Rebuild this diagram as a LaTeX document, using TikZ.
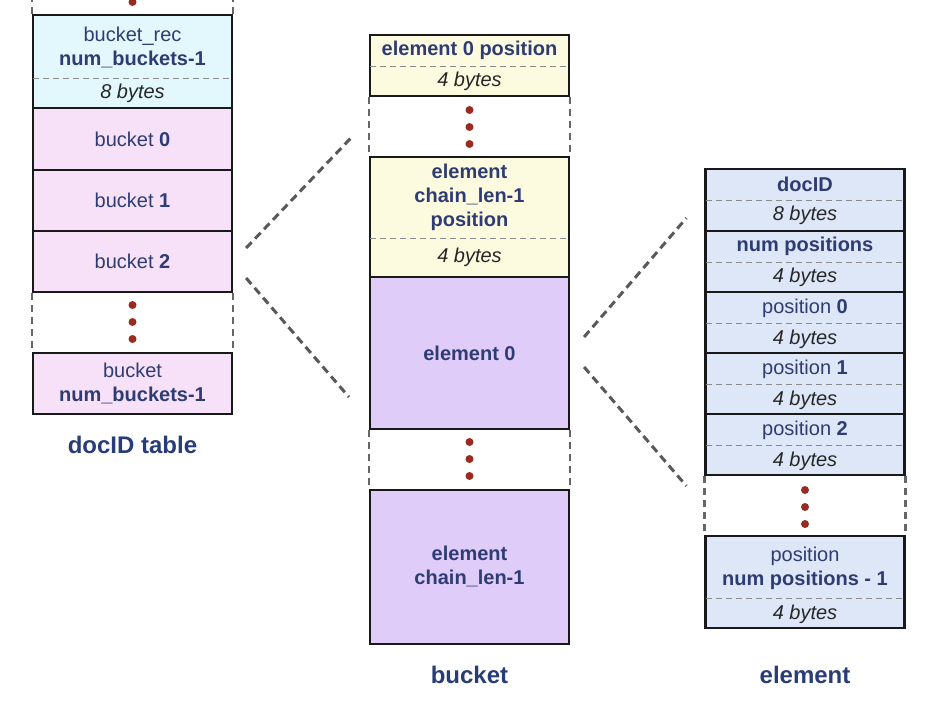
\documentclass[tikz,border=0pt]{standalone}
\usepackage{fontspec}
\setmainfont{Liberation Sans}
\usetikzlibrary{calc}
\definecolor{navy}{HTML}{2E3C73}
\definecolor{navytitle}{HTML}{283C78}
\definecolor{dotred}{HTML}{9C2A1F}
\definecolor{fcyan}{HTML}{E2F8FC}
\definecolor{fpink}{HTML}{F6E1F8}
\definecolor{fyellow}{HTML}{FDFBDF}
\definecolor{fpurple}{HTML}{E0CCF8}
\definecolor{fblue}{HTML}{DDE7F8}
\begin{document}
\begin{tikzpicture}[x=1pt,y=-1pt,
 cell/.style={draw=black!90, line width=2.2pt, minimum width=199pt, inner sep=0pt},
 sepline/.style={draw=black!45, line width=0.9pt, dash pattern=on 6pt off 4pt},
 gapside/.style={draw=black!60, line width=2.5pt, dash pattern=on 7pt off 5pt},
 conn/.style={draw=black!65, line width=3pt, dash pattern=on 8pt off 5pt},
 txt/.style={text=navy, font=\fontsize{20}{23.5}\selectfont, align=center, inner sep=0pt},
 sz/.style={font=\fontsize{20}{23.5}\selectfont\itshape, text=black!85, inner sep=0pt},
 title/.style={text=navytitle, font=\fontsize{24}{28}\selectfont\bfseries, inner sep=0pt},
 dot/.style={circle, fill=dotred, minimum size=8pt, inner sep=0pt},
]
\useasboundingbox (0,0) rectangle (926,709);
\clip (0,0) rectangle (926,709);

% ---------- left column: docID table ----------
\node[cell, fill=fcyan, minimum height=93pt] (rec) at (132.5,61.5) {};
\node[cell, fill=fpink, minimum height=62pt] (b0) at (132.5,139) {};
\node[cell, fill=fpink, minimum height=61pt] (b1) at (132.5,200.5) {};
\node[cell, fill=fpink, minimum height=61pt] (b2) at (132.5,261.5) {};
\node[cell, fill=fpink, minimum height=61pt] (bn) at (132.5,383.5) {};
\draw[sepline] ([xshift=1.5pt]rec.west |- 0,78) -- ([xshift=-1.5pt]rec.east |- 0,78);
\draw[gapside] (rec.north west) -- (rec.north west |- 0,0);
\draw[gapside] (rec.north east) -- (rec.north east |- 0,0);
\draw[gapside] (b2.south west) -- (bn.north west);
\draw[gapside] (b2.south east) -- (bn.north east);
\node[dot] (dt) at (132.5,2) {};
\node[dot] (dl1) at (132.5,305) {};
\node[dot] (dl2) at (132.5,322) {};
\node[dot] (dl3) at (132.5,339) {};
\node[txt] (trec) at (132.5,47.5) {bucket\_rec\\\textbf{num\_buckets-1}};
\node[sz] (srec) at (132.5,93) {8 bytes};
\node[txt] (tb0) at (132.5,139) {bucket \textbf{0}};
\node[txt] (tb1) at (132.5,200.5) {bucket \textbf{1}};
\node[txt] (tb2) at (132.5,261.5) {bucket \textbf{2}};
\node[txt] (tbn) at (132.5,383.5) {bucket\\\textbf{num\_buckets-1}};
\node[title] (tleft) at (132.5,445) {docID table};

% ---------- middle column: bucket ----------
\node[cell, fill=fyellow, minimum height=61pt] (e0p) at (469.5,65.5) {};
\node[cell, fill=fyellow, minimum height=120pt] (ecp) at (469.5,217) {};
\node[cell, fill=fpurple, minimum height=152pt] (e0) at (469.5,353) {};
\node[cell, fill=fpurple, minimum height=154pt] (ec) at (469.5,567) {};
\draw[sepline] ([xshift=1.5pt]e0p.west |- 0,66) -- ([xshift=-1.5pt]e0p.east |- 0,66);
\draw[sepline] ([xshift=1.5pt]ecp.west |- 0,238) -- ([xshift=-1.5pt]ecp.east |- 0,238);
\draw[gapside] (e0p.south west) -- (ecp.north west);
\draw[gapside] (e0p.south east) -- (ecp.north east);
\draw[gapside] (e0.south west) -- (ec.north west);
\draw[gapside] (e0.south east) -- (ec.north east);
\node[dot] (dm1) at (469.5,110) {};
\node[dot] (dm2) at (469.5,127) {};
\node[dot] (dm3) at (469.5,144) {};
\node[dot] (dm4) at (469.5,442) {};
\node[dot] (dm5) at (469.5,459) {};
\node[dot] (dm6) at (469.5,476) {};
\node[txt, font=\fontsize{20}{23.5}\selectfont\bfseries] (te0p) at (469.5,50) {element 0 position};
\node[sz] (se0p) at (469.5,81) {4 bytes};
\node[txt, font=\fontsize{20}{24}\selectfont\bfseries] (tecp) at (469.5,197) {element\\chain\_len-1\\position};
\node[sz] (secp) at (469.5,257) {4 bytes};
\node[txt, font=\fontsize{20}{23.5}\selectfont\bfseries] (te0) at (469.5,353) {element 0};
\node[txt, font=\fontsize{20}{24}\selectfont\bfseries] (tec) at (469.5,566) {element\\chain\_len-1};
\node[title] (tmid) at (469.5,675) {bucket};

% ---------- right column: element ----------
\node[cell, fill=fblue, minimum height=62pt] (did) at (805,200) {};
\node[cell, fill=fblue, minimum height=61pt] (np) at (805,261.5) {};
\node[cell, fill=fblue, minimum height=61pt] (p0) at (805,322.5) {};
\node[cell, fill=fblue, minimum height=61pt] (p1) at (805,383.5) {};
\node[cell, fill=fblue, minimum height=61pt] (p2) at (805,444.5) {};
\node[cell, fill=fblue, minimum height=92pt] (pn) at (805,582) {};
\foreach \n/\y in {did/200, np/262, p0/323, p1/384, p2/445, pn/598}
  \draw[sepline] ([xshift=1.5pt]\n.west |- 0,\y) -- ([xshift=-1.5pt]\n.east |- 0,\y);
\draw[gapside] (p2.south west) -- (pn.north west);
\draw[gapside] (p2.south east) -- (pn.north east);
\node[dot] (dr1) at (805,490) {};
\node[dot] (dr2) at (805,507) {};
\node[dot] (dr3) at (805,524) {};
\node[txt] (tdid) at (805,184) {\textbf{docID}};
\node[sz] (sdid) at (805,215) {8 bytes};
\node[txt] (tnp) at (805,246) {\textbf{num positions}};
\node[sz] (snp) at (805,277) {4 bytes};
\node[txt] (tp0) at (805,308) {position \textbf{0}};
\node[sz] (sp0) at (805,339) {4 bytes};
\node[txt] (tp1) at (805,369) {position \textbf{1}};
\node[sz] (sp1) at (805,400) {4 bytes};
\node[txt] (tp2) at (805,430) {position \textbf{2}};
\node[sz] (sp2) at (805,461) {4 bytes};
\node[txt] (tpn) at (805,568.5) {position\\\textbf{num positions - 1}};
\node[sz] (spn) at (805,614) {4 bytes};
\node[title] (tright) at (805,675) {element};

% ---------- zoom connectors ----------
\coordinate (la) at ($(b2.east)+(13,-13.5)$);
\coordinate (lb) at ($(b2.east)+(13,16.5)$);
\coordinate (ma) at ($(e0p.west |- 0,138)+(-18,0)$);
\coordinate (mb) at ($(e0.west |- 0,397)+(-20,0)$);
\coordinate (ra) at ($(e0.east)+(14,-16)$);
\coordinate (rb) at ($(e0.east)+(14,14)$);
\coordinate (sa) at ($(did.west |- 0,218)+(-18,0)$);
\coordinate (sb) at ($(did.west |- 0,486)+(-18,0)$);
\draw[conn] (la) -- (ma);
\draw[conn] (lb) -- (mb);
\draw[conn] (ra) -- (sa);
\draw[conn] (rb) -- (sb);
\end{tikzpicture}
\end{document}
